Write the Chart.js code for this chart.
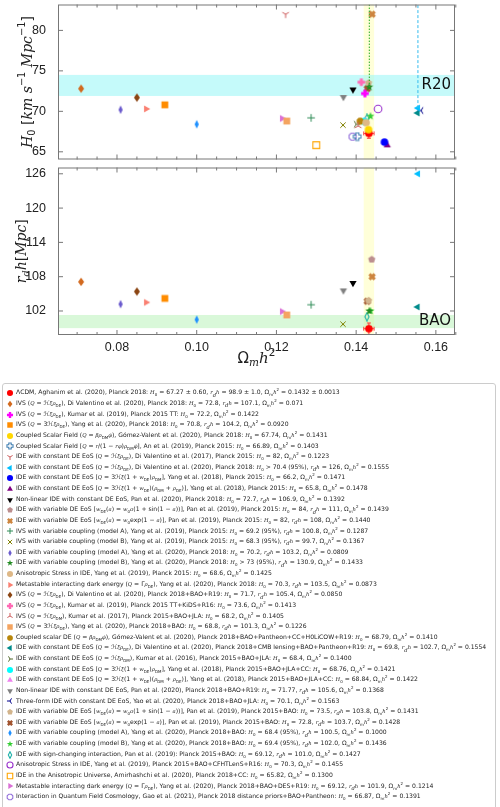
<!DOCTYPE html>
<html><head><meta charset="utf-8">
<script src="https://cdn.jsdelivr.net/npm/chart.js@4.4.0/dist/chart.umd.min.js"></script>
<style>
body{margin:0;background:#fff;width:500px;height:807px;overflow:hidden;position:relative;font-family:"DejaVu Sans",sans-serif}
#c1{position:absolute;left:0;top:-7px}
#c2{position:absolute;left:0;top:156px}
#legend{position:absolute;left:2px;top:383px;width:494px;height:430px;border:1px solid #ccc;border-radius:3px;padding-top:4px;box-sizing:border-box}
.row{height:10.63px;line-height:10.63px;font-size:6.1px;color:#222;white-space:nowrap;display:flex;align-items:center}
.row canvas{margin:0 2px 0 3px}
.m{font-family:"DejaVu Serif",serif;font-style:italic;font-size:5.3px}
sub,sup{font-size:4px}
</style></head><body>
<canvas id="c1" width="500" height="178"></canvas>
<canvas id="c2" width="500" height="224"></canvas>
<div id="legend"></div>
<script>
// ===== DATA =====
const omh2 = [0.1432,0.071,0.1422,0.092,0.1431,0.1403,0.1223,0.1555,0.1471,0.1478,0.1392,0.1439,0.1440,0.1287,0.1367,0.0809,0.1433,0.1425,0.0873,0.0850,0.1413,0.1405,0.1226,0.1410,0.1554,0.1400,0.1421,0.1422,0.1368,0.1563,0.1431,0.1428,0.1000,0.1436,0.1427,0.1455,0.1300,0.1214,0.1391];
const h0   = [67.27,72.8,72.2,70.8,67.74,66.89,82,70.4,66.2,65.8,72.7,84,82,69.2,68.3,70.2,73,68.6,70.3,71.7,73.6,68.2,68.8,68.79,69.8,68.4,68.76,68.84,71.77,70.1,73.5,72.8,68.4,69.4,69.12,70.3,65.82,69.12,66.87];
const rdh  = [98.9,107.1,null,104.2,null,null,null,126,null,null,106.9,111,108,103.1,99.7,103.2,102.0,null,103.5,105.4,null,null,101.3,null,102.7,null,null,null,105.6,null,103.8,103.7,100.5,102.0,101.0,null,null,101.9,null];
const h0LowerBound = [7,16]; // indices of "H0 >" entries
const lcdmErr = {x:0.0013, h0:0.60, rdh:1.0};
const r20Band = [71.9,74.5];
const baoBand = [99.0,101.3];
const planckBand = [0.1419,0.1445];
const xTicks = [0.08,0.10,0.12,0.14,0.16];
const h0Ticks = [65,70,75,80];
const rdhTicks = [102,108,114,120,126];

// ===== STYLE =====
const colors = ["#ff0000","#d2691e","#ff00ff","#ff8c00","#ffd700","#4682b4","#cd5c5c","#00bfff","#0000ff","#800080","#000000","#bc8f8f","#cd853f","#2e8b57","#808000","#6a5acd","#228b22","#deb887","#fa8072","#8b4513","#ff69b4","#cd5c5c","#f4a460","#b8860b","#008b8b","#556b2f","#00ffff","#ee82ee","#808080","#00008b","#d2b48c","#a0522d","#1e90ff","#32cd32","#20b2aa","#9932cc","#ffa500","#da70d6","#9370db"];
const shapes = ["o","D","P","s","o","Ph","1","<","o","^","v","p","X","+","x","d","*","o",">","D","P","2","s","8","<","4","o","^","v","3","p","X","d","*","dh","oh","sh",">","8h"];

const M = s => `<span class="m">${s}</span>`;
const H = `${M("H")}<sub>0</sub>`, R = `${M("r")}<sub>${M("d")}</sub>${M("h")}`, O = `Ω<sub>m</sub>${M("h")}<sup>2</sup>`;
const labels = [
 `ΛCDM, Aghanim et al. (2020), Planck 2018: ${H} = 67.27 ± 0.60, ${R} = 98.9 ± 1.0, ${O} = 0.1432 ± 0.0013`,
 `IVS (${M("Q")} = ℋ${M("ξρ")}<sub>DE</sub>), Di Valentino et al. (2020), Planck 2018: ${H} = 72.8, ${R} = 107.1, ${O} = 0.071`,
 `IVS (${M("Q")} = ℋ${M("ξρ")}<sub>DE</sub>), Kumar et al. (2019), Planck 2015 TT: ${H} = 72.2, ${O} = 0.1422`,
 `IVS (${M("Q")} = 3ℋ${M("ξρ")}<sub>DE</sub>), Yang et al. (2020), Planck 2018: ${H} = 70.8, ${R} = 104.2, ${O} = 0.0920`,
 `Coupled Scalar Field (${M("Q")} = ${M("βρ")}<sub>DM</sub>${M("φ̇")}), Gómez-Valent et al. (2020), Planck 2018: ${H} = 67.74, ${O} = 0.1431`,
 `Coupled Scalar Field [${M("Q")} = ${M("r")}/(1 − ${M("rφ")})${M("ρ")}<sub>DM</sub>${M("φ̇")}], An et al. (2019), Planck 2015: ${H} = 66.89, ${O} = 0.1403`,
 `IDE with constant DE EoS (${M("Q")} = ℋ${M("ξρ")}<sub>DE</sub>), Di Valentino et al. (2017), Planck 2015: ${H} = 82, ${O} = 0.1223`,
 `IDE with constant DE EoS (${M("Q")} = ℋ${M("ξρ")}<sub>DE</sub>), Di Valentino et al. (2020), Planck 2018: ${H} &gt; 70.4 (95%), ${R} = 126, ${O} = 0.1555`,
 `IDE with constant DE EoS [${M("Q")} = 3ℋ${M("ξ")}(1 + ${M("w")}<sub>DE</sub>)${M("ρ")}<sub>DM</sub>], Yang et al. (2018), Planck 2015: ${H} = 66.2, ${O} = 0.1471`,
 `IDE with constant DE EoS [${M("Q")} = 3ℋ${M("ξ")}(1 + ${M("w")}<sub>DE</sub>)(${M("ρ")}<sub>DM</sub> + ${M("ρ")}<sub>DE</sub>)], Yang et al. (2018), Planck 2015: ${H} = 65.8, ${O} = 0.1478`,
 `Non-linear IDE with constant DE EoS, Pan et al. (2020), Planck 2018: ${H} = 72.7, ${R} = 106.9, ${O} = 0.1392`,
 `IDE with variable DE EoS [${M("w")}<sub>DE</sub>(${M("a")}) = ${M("w")}<sub>0</sub>${M("a")}(1 + sin(1 − ${M("a")}))], Pan et al. (2019), Planck 2015: ${H} = 84, ${R} = 111, ${O} = 0.1439`,
 `IDE with variable DE EoS [${M("w")}<sub>DE</sub>(${M("a")}) = ${M("w")}<sub>0</sub>exp(1 − ${M("a")})], Pan et al. (2019), Planck 2015: ${H} = 82, ${R} = 108, ${O} = 0.1440`,
 `IVS with variable coupling (model A), Yang et al. (2019), Planck 2015: ${H} = 69.2 (95%), ${R} = 100.8, ${O} = 0.1287`,
 `IVS with variable coupling (model B), Yang et al. (2019), Planck 2015: ${H} = 68.3 (95%), ${R} = 99.7, ${O} = 0.1367`,
 `IDE with variable coupling (model A), Yang et al. (2020), Planck 2018: ${H} = 70.2, ${R} = 103.2, ${O} = 0.0809`,
 `IDE with variable coupling (model B), Yang et al. (2020), Planck 2018: ${H} &gt; 73 (95%), ${R} = 130.9, ${O} = 0.1433`,
 `Anisotropic Stress in IDE, Yang et al. (2019), Planck 2015: ${H} = 68.6, ${O} = 0.1425`,
 `Metastable interacting dark energy (${M("Q")} = Γ${M("ρ")}<sub>DE</sub>), Yang et al. (2020), Planck 2018: ${H} = 70.3, ${R} = 103.5, ${O} = 0.0873`,
 `IVS (${M("Q")} = ℋ${M("ξρ")}<sub>DE</sub>), Di Valentino et al. (2020), Planck 2018+BAO+R19: ${H} = 71.7, ${R} = 105.4, ${O} = 0.0850`,
 `IVS (${M("Q")} = ℋ${M("ξρ")}<sub>DE</sub>), Kumar et al. (2019), Planck 2015 TT+KiDS+R16: ${H} = 73.6, ${O} = 0.1413`,
 `IVS (${M("Q")} = ℋ${M("ξρ")}<sub>DM</sub>), Kumar et al. (2017), Planck 2015+BAO+JLA: ${H} = 68.2, ${O} = 0.1405`,
 `IVS (${M("Q")} = 3ℋ${M("ξρ")}<sub>DE</sub>), Yang et al. (2020), Planck 2018+BAO: ${H} = 68.8, ${R} = 101.3, ${O} = 0.1226`,
 `Coupled scalar DE (${M("Q")} = ${M("βρ")}<sub>DM</sub>${M("φ̇")}), Gómez-Valent et al. (2020), Planck 2018+BAO+Pantheon+CC+H0LiCOW+R19: ${H} = 68.79, ${O} = 0.1410`,
 `IDE with constant DE EoS (${M("Q")} = ℋ${M("ξρ")}<sub>DE</sub>), Di Valentino et al. (2020), Planck 2018+CMB lensing+BAO+Pantheon+R19: ${H} = 69.8, ${R} = 102.7, ${O} = 0.1554`,
 `IDE with constant DE EoS (${M("Q")} = ℋ${M("ξρ")}<sub>DM</sub>), Kumar et al. (2016), Planck 2015+BAO+JLA: ${H} = 68.4, ${O} = 0.1400`,
 `IDE with constant DE EoS [${M("Q")} = 3ℋ${M("ξ")}(1 + ${M("w")}<sub>DE</sub>)${M("ρ")}<sub>DM</sub>], Yang et al. (2018), Planck 2015+BAO+JLA+CC: ${H} = 68.76, ${O} = 0.1421`,
 `IDE with constant DE EoS [${M("Q")} = 3ℋ${M("ξ")}(1 + ${M("w")}<sub>DE</sub>)(${M("ρ")}<sub>DM</sub> + ${M("ρ")}<sub>DE</sub>)], Yang et al. (2018), Planck 2015+BAO+JLA+CC: ${H} = 68.84, ${O} = 0.1422`,
 `Non-linear IDE with constant DE EoS, Pan et al. (2020), Planck 2018+BAO+R19: ${H} = 71.77, ${R} = 105.6, ${O} = 0.1368`,
 `Three-form IDE with constant DE EoS, Yao et al. (2020), Planck 2018+BAO+JLA: ${H} = 70.1, ${O} = 0.1563`,
 `IDE with variable DE EoS [${M("w")}<sub>DE</sub>(${M("a")}) = ${M("w")}<sub>0</sub>${M("a")}(1 + sin(1 − ${M("a")}))], Pan et al. (2019), Planck 2015+BAO: ${H} = 73.5, ${R} = 103.8, ${O} = 0.1431`,
 `IDE with variable DE EoS [${M("w")}<sub>DE</sub>(${M("a")}) = ${M("w")}<sub>0</sub>exp(1 − ${M("a")})], Pan et al. (2019), Planck 2015+BAO: ${H} = 72.8, ${R} = 103.7, ${O} = 0.1428`,
 `IDE with variable coupling (model A), Yang et al. (2020), Planck 2018+BAO: ${H} = 68.4 (95%), ${R} = 100.5, ${O} = 0.1000`,
 `IDE with variable coupling (model B), Yang et al. (2020), Planck 2018+BAO: ${H} = 69.4 (95%), ${R} = 102.0, ${O} = 0.1436`,
 `IDE with sign-changing interaction, Pan et al. (2019): Planck 2015+BAO: ${H} = 69.12, ${R} = 101.0, ${O} = 0.1427`,
 `Anisotropic Stress in IDE, Yang et al. (2019), Planck 2015+BAO+CFHTLenS+R16: ${H} = 70.3, ${O} = 0.1455`,
 `IDE in the Anisotropic Universe, Amirhashchi et al. (2020), Planck 2018+CC: ${H} = 65.82, ${O} = 0.1300`,
 `Metastable interacting dark energy (${M("Q")} = Γ${M("ρ")}<sub>DE</sub>), Yang et al. (2020), Planck 2018+BAO+DES+R19: ${H} = 69.12, ${R} = 101.9, ${O} = 0.1214`,
 `Interaction in Quantum Field Cosmology, Gao et al. (2021), Planck 2018 distance priors+BAO+Pantheon: ${H} = 66.87, ${O} = 0.1391`
];

// ===== MARKERS =====
function poly(ctx, pts){ctx.beginPath();pts.forEach((p,i)=>i?ctx.lineTo(p[0],p[1]):ctx.moveTo(p[0],p[1]));ctx.closePath();}
function regular(ctx,c,n,r,rot){const p=[];for(let k=0;k<n;k++){const a=rot+k*2*Math.PI/n;p.push([c+r*Math.sin(a),c-r*Math.cos(a)]);}poly(ctx,p);}
function makeMarker(shape,color,size){
  const cv=document.createElement("canvas");cv.width=cv.height=size;
  const ctx=cv.getContext("2d"),c=size/2,r=size*0.38;
  ctx.fillStyle=color;ctx.strokeStyle=color;ctx.lineWidth=1.2;
  const hollow=shape.endsWith("h")&&shape.length>1;const s=hollow?shape.slice(0,-1):shape;
  switch(s){
    case "o":ctx.beginPath();ctx.arc(c,c,r,0,7);break;
    case "D":poly(ctx,[[c,c-r*1.1],[c+r*0.8,c],[c,c+r*1.1],[c-r*0.8,c]]);break;
    case "d":poly(ctx,[[c,c-r*1.1],[c+r*0.55,c],[c,c+r*1.1],[c-r*0.55,c]]);break;
    case "s":ctx.beginPath();ctx.rect(c-r*0.9,c-r*0.9,r*1.8,r*1.8);break;
    case "p":regular(ctx,c,5,r,0);break;
    case "8":regular(ctx,c,8,r,Math.PI/8);break;
    case "^":regular(ctx,c,3,r*1.1,0);break;
    case "v":regular(ctx,c,3,r*1.1,Math.PI);break;
    case "<":regular(ctx,c,3,r*1.1,-Math.PI/2);break;
    case ">":regular(ctx,c,3,r*1.1,Math.PI/2);break;
    case "*":{const p=[];for(let k=0;k<10;k++){const a=k*Math.PI/5,rr=k%2?r*0.45:r*1.1;p.push([c+rr*Math.sin(a),c-rr*Math.cos(a)]);}poly(ctx,p);break;}
    case "P":case "X":{const w=r*0.4,L=r;let p=[[-w,-L],[w,-L],[w,-w],[L,-w],[L,w],[w,w],[w,L],[-w,L],[-w,w],[-L,w],[-L,-w],[-w,-w]];
      if(s==="X"){const a=Math.PI/4;p=p.map(([x,y])=>[x*Math.cos(a)-y*Math.sin(a),x*Math.sin(a)+y*Math.cos(a)]);}
      poly(ctx,p.map(([x,y])=>[c+x,c+y]));break;}
    case "+":case "x":case "1":case "2":case "3":case "4":{
      const arms={"+":[0,90,180,270],"x":[45,135,225,315],"1":[180,60,300],"2":[0,120,240],"3":[270,30,150],"4":[90,210,330]}[s];
      ctx.beginPath();arms.forEach(d=>{const a=d*Math.PI/180;ctx.moveTo(c,c);ctx.lineTo(c+r*Math.sin(a),c-r*Math.cos(a));});
      ctx.lineWidth=1;ctx.stroke();return cv;}
  }
  if(hollow){ctx.lineWidth=1.1;ctx.stroke();}else ctx.fill();
  return cv;
}
const markers=shapes.map((s,i)=>makeMarker(s,colors[i],10));

// ===== LEGEND =====
const leg=document.getElementById("legend");
labels.forEach((t,i)=>{const row=document.createElement("div");row.className="row";
  const mk=makeMarker(shapes[i],colors[i],8);row.appendChild(mk);
  const sp=document.createElement("span");sp.innerHTML=t;row.appendChild(sp);leg.appendChild(row);});

// ===== PLUGINS =====
function richText(ctx,parts,x,y,size,rotate){
  ctx.save();ctx.translate(x,y);if(rotate)ctx.rotate(-Math.PI/2);
  const fontOf=p=>`${p.it?"italic ":""}${p.sub||p.sup?size*0.7:size}px ${p.it?"'DejaVu Serif'":"'DejaVu Sans'"}`;
  let w=0;parts.forEach(p=>{ctx.font=fontOf(p);w+=ctx.measureText(p.t).width;});
  let cx=-w/2;ctx.fillStyle="#222";ctx.textBaseline="middle";
  parts.forEach(p=>{ctx.font=fontOf(p);const dy=p.sub?size*0.3:p.sup?-size*0.4:0;ctx.fillText(p.t,cx,dy);cx+=ctx.measureText(p.t).width;});
  ctx.restore();
}
const frame={id:"frame",
  beforeDatasetsDraw(ch,a,o){const {ctx,chartArea:A,scales:{x,y}}=ch;ctx.save();
    ctx.fillStyle="rgba(255,255,170,0.45)";const x0=x.getPixelForValue(planckBand[0]),x1=x.getPixelForValue(planckBand[1]);
    ctx.fillRect(x0,A.top,x1-x0,A.bottom-A.top);
    const b=o.band;ctx.fillStyle=o.bandColor;const y0=y.getPixelForValue(b[1]),y1=y.getPixelForValue(b[0]);
    ctx.fillRect(A.left,y0,A.right-A.left,y1-y0);
    ctx.fillStyle="#111";ctx.font="15px 'DejaVu Sans'";ctx.textAlign="right";ctx.textBaseline="middle";
    ctx.fillText(o.text,A.right-4,(y0+y1)/2);
    // ΛCDM error bars
    const px=x.getPixelForValue(omh2[0]),py=y.getPixelForValue(o.errY[0]);
    const ey0=y.getPixelForValue(o.errY[0]-o.errY[1]),ey1=y.getPixelForValue(o.errY[0]+o.errY[1]);
    const ex0=x.getPixelForValue(omh2[0]-lcdmErr.x),ex1=x.getPixelForValue(omh2[0]+lcdmErr.x);
    ctx.strokeStyle="#ff4040";ctx.lineWidth=1;ctx.beginPath();
    ctx.moveTo(px,ey0);ctx.lineTo(px,ey1);ctx.moveTo(ex0,py);ctx.lineTo(ex1,py);
    ctx.moveTo(px-2,ey0);ctx.lineTo(px+2,ey0);ctx.moveTo(px-2,ey1);ctx.lineTo(px+2,ey1);
    ctx.moveTo(ex0,py-2);ctx.lineTo(ex0,py+2);ctx.moveTo(ex1,py-2);ctx.lineTo(ex1,py+2);ctx.stroke();
    ctx.restore();},
  afterDraw(ch,a,o){const {ctx,chartArea:A,scales:{x,y}}=ch;ctx.save();ctx.strokeStyle="#777";ctx.lineWidth=1;
    ctx.strokeRect(A.left+0.5,A.top+0.5,A.right-A.left-1,A.bottom-A.top-1);
    ctx.beginPath();
    for(let k=14;k<=33;k++){const v=k*0.005,p=x.getPixelForValue(v),L=k%4===0?5:3;
      ctx.moveTo(p,A.bottom);ctx.lineTo(p,A.bottom-L);ctx.moveTo(p,A.top);ctx.lineTo(p,A.top+L);}
    o.ticks.forEach(v=>{const p=y.getPixelForValue(v);ctx.moveTo(A.left,p);ctx.lineTo(A.left+5,p);ctx.moveTo(A.right,p);ctx.lineTo(A.right-5,p);});
    ctx.stroke();
    richText(ctx,o.ylabel,o.ylx,(A.top+A.bottom)/2,14,true);
    if(o.xlabel)richText(ctx,o.xlabel,(A.left+A.right)/2,A.bottom+24,15,false);
    ctx.restore();}
};

function scatterSets(vals){return vals.map((v,i)=>({label:"s"+i,data:v==null?[]:[{x:omh2[i],y:v}],
  pointStyle:markers[i],pointRadius:5,clip:0}));}
const tickFont={family:"Liberation Sans",size:12.5};
function xScale(show){const s={type:"linear",min:0.0652,max:0.1648,display:show,
  afterBuildTicks:s=>{s.ticks=xTicks.map(v=>({value:v}));},
  ticks:{font:tickFont,color:"#222",callback:v=>v.toFixed(2),padding:-3},
  grid:{display:false},border:{display:false}};
  if(show)s.afterFit=sc=>{sc.height=45;};return s;}
function yScale(min,max,ticks){return {type:"linear",min,max,
  afterBuildTicks:s=>{s.ticks=ticks.map(v=>({value:v}));},
  ticks:{font:tickFont,color:"#222",padding:4},grid:{display:false},border:{display:false},afterFit:s=>{s.width=58;}};}
const common={responsive:false,animation:false,layout:{padding:{left:0,right:45,top:0,bottom:0}}};
const basePlugins={legend:{display:false},tooltip:{enabled:false}};

// lower-bound lines for "H0 >" entries
const boundSets=h0LowerBound.map((i,k)=>({type:"line",data:[{x:omh2[i],y:h0[i]},{x:omh2[i],y:83.3}],
  borderColor:k===0?"#33bbee":"#22aa22",borderWidth:1,borderDash:k===0?[3,2]:[1.5,1.5],pointRadius:0,clip:0}));

new Chart(document.getElementById("c1"),{type:"scatter",
  data:{datasets:[...boundSets,...scatterSets(h0).slice(1),scatterSets(h0)[0]]},
  options:{...common,scales:{x:xScale(false),y:yScale(64.05,83.2,h0Ticks)},
    plugins:{...basePlugins,frame:{band:r20Band,bandColor:"rgba(150,245,245,0.55)",text:"R20",errY:[h0[0],lcdmErr.h0],ticks:h0Ticks,ylx:28,
      ylabel:[{t:"H",it:1},{t:"0",sub:1},{t:" ["},{t:"km s",it:1},{t:"−1",sup:1},{t:" Mpc",it:1},{t:"−1",sup:1},{t:"]"}]}}},
  plugins:[frame]});

new Chart(document.getElementById("c2"),{type:"scatter",
  data:{datasets:[...scatterSets(rdh).slice(1),scatterSets(rdh)[0]]},
  options:{...common,scales:{x:xScale(true),y:yScale(97.8,127.1,rdhTicks)},
    plugins:{...basePlugins,frame:{band:baoBand,bandColor:"rgba(170,240,170,0.45)",text:"BAO",errY:[rdh[0],lcdmErr.rdh],ticks:rdhTicks,ylx:22,
      ylabel:[{t:"r",it:1},{t:"d",it:1,sub:1},{t:"h",it:1},{t:"["},{t:"Mpc",it:1},{t:"]"}],
      xlabel:[{t:"Ω"},{t:"m",it:1,sub:1},{t:"h",it:1},{t:"2",sup:1}]}}},
  plugins:[frame]});
</script></body></html>
